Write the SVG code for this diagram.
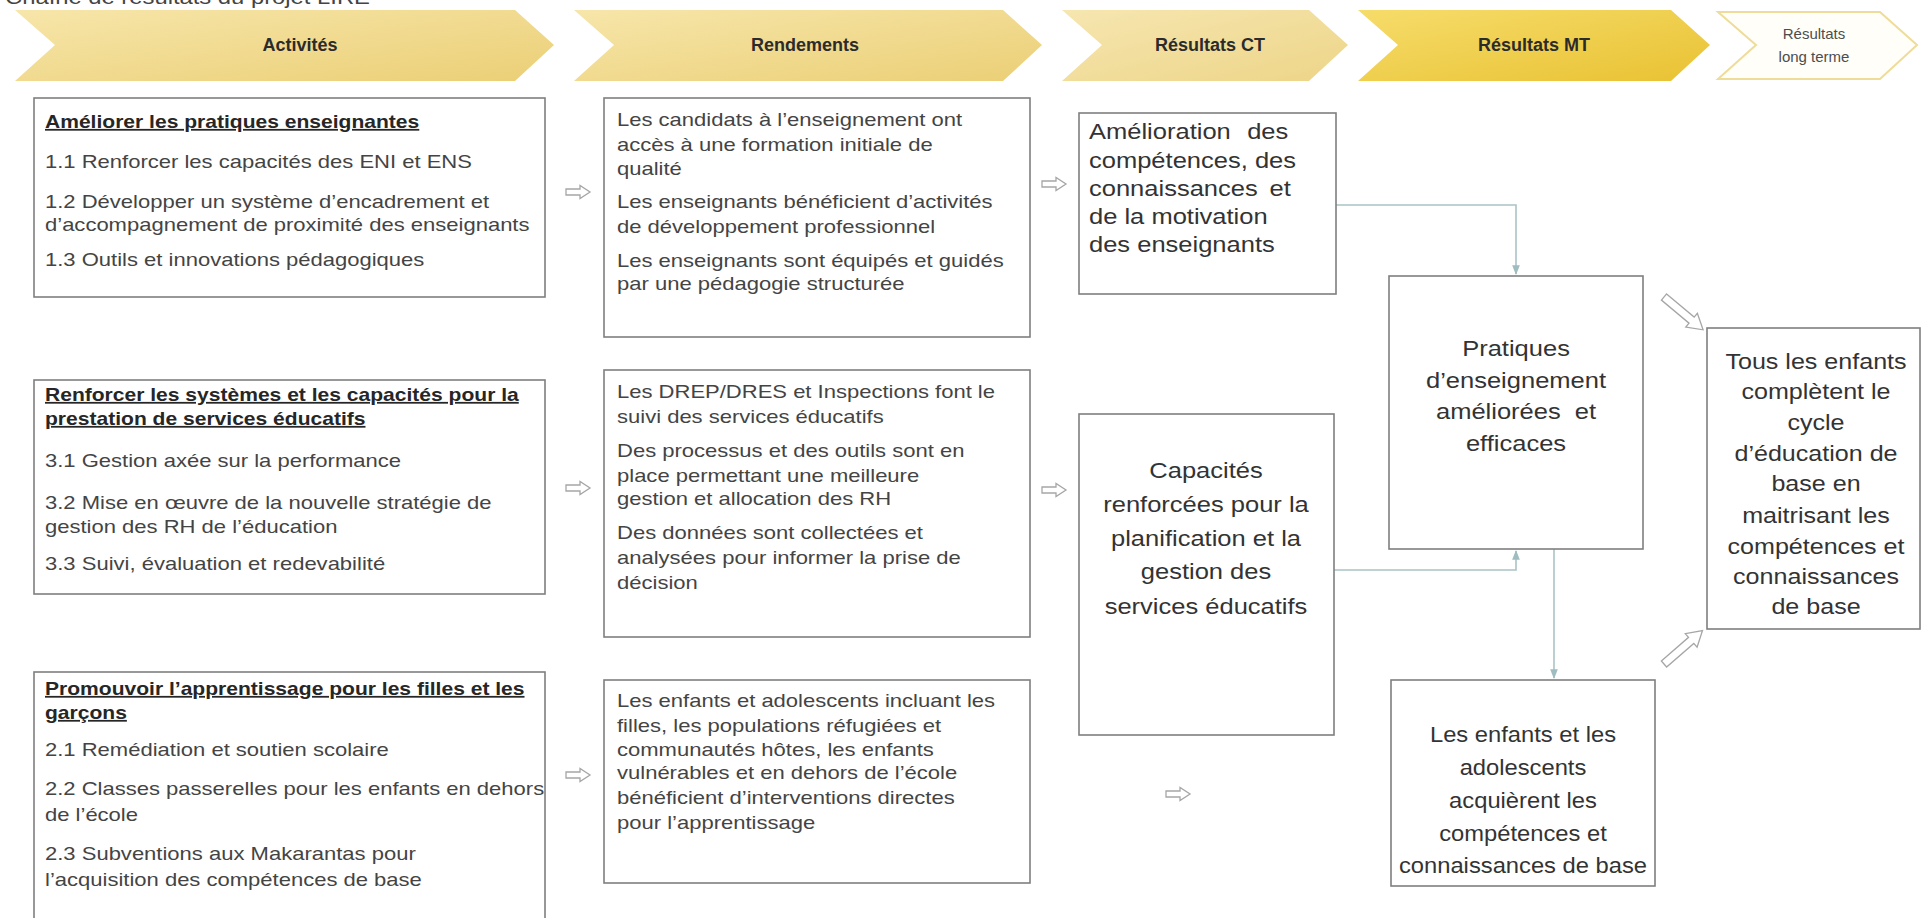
<svg xmlns="http://www.w3.org/2000/svg" width="1922" height="918" viewBox="0 0 1922 918">
<defs>
<linearGradient id="gGold" x1="0" y1="0" x2="1" y2="1">
<stop offset="0" stop-color="#f7e6aa"/><stop offset="1" stop-color="#ebcf76"/>
</linearGradient>
<linearGradient id="gGoldLight" x1="0" y1="0" x2="1" y2="1">
<stop offset="0" stop-color="#f6e6b0"/><stop offset="1" stop-color="#edd588"/>
</linearGradient>
<linearGradient id="gMT" x1="0" y1="0" x2="1" y2="1">
<stop offset="0" stop-color="#f6dc6a"/><stop offset="1" stop-color="#e9c233"/>
</linearGradient>
<marker id="ah" viewBox="0 0 10 10" refX="9" refY="5" markerWidth="6" markerHeight="6" orient="auto">
<path d="M0,1 L10,5 L0,9 z" fill="#9fbcc0"/>
</marker>
<polygon id="hollow" points="0,-3 14,-3 14,-6.5 24,0 14,6.5 14,3 0,3"/>
<polygon id="bigHollow" points="0,-4 36,-4 36,-9 51,0 36,9 36,4 0,4"/>
</defs>
<style>
.chev{stroke:none}
.hdr{font-family:"Liberation Sans",Arial,sans-serif;font-weight:bold;font-size:18px;fill:#2b2b2b;text-anchor:middle}
.box{fill:#ffffff;stroke:#7f7f7f;stroke-width:1.6}
.t{font-family:"Liberation Sans",Arial,sans-serif;font-size:18.5px;fill:#444444}
.tb{font-family:"Liberation Sans",Arial,sans-serif;font-size:17.7px;font-weight:bold;fill:#262626;text-decoration:underline}
.tc{font-family:"Liberation Sans",Arial,sans-serif;font-size:22px;fill:#333333;text-anchor:middle}
.tl{font-family:"Liberation Sans",Arial,sans-serif;font-size:22px;fill:#333333}
.conn{fill:none;stroke:#a9c4c6;stroke-width:1.6}
.ha{fill:#ffffff;stroke:#a6a6a6;stroke-width:1.3}
</style>

<g id="title" transform="translate(5,0) scale(1.19,1)">
<text x="0" y="4" font-family="Liberation Sans, Arial, sans-serif" font-size="20" fill="#444444">Chaîne de résultats du projet LIRE</text>
</g>

<g id="headers">
<polygon class="chev" fill="url(#gGold)" points="15,10 515,10 554,45 515,81 15,81 55,45"/>
<text class="hdr" x="300" y="51">Activités</text>
<polygon class="chev" fill="url(#gGold)" points="574,10 1003,10 1042,45 1003,81 574,81 614,45"/>
<text class="hdr" x="805" y="51">Rendements</text>
<polygon class="chev" fill="url(#gGoldLight)" points="1062,10 1309,10 1348,45 1309,81 1062,81 1102,45"/>
<text class="hdr" x="1210" y="51">Résultats CT</text>
<polygon class="chev" fill="url(#gMT)" points="1358,10 1671,10 1710,45 1671,81 1358,81 1398,45"/>
<text class="hdr" x="1534" y="51">Résultats MT</text>
<polygon fill="#fffef8" stroke="#eedc98" stroke-width="2" points="1718,12 1880,12 1917,45 1880,79 1718,79 1756,45"/>
<text x="1814" y="39" font-family="Liberation Sans, Arial, sans-serif" font-size="15" fill="#4d4d4d" text-anchor="middle">Résultats</text>
<text x="1814" y="62" font-family="Liberation Sans, Arial, sans-serif" font-size="15" fill="#4d4d4d" text-anchor="middle">long terme</text>
</g>

<g id="connectors">
<path class="conn" d="M1336,205 H1516 V274" marker-end="url(#ah)"/>
<path class="conn" d="M1334,570 H1516 V551" marker-end="url(#ah)"/>
<path class="conn" d="M1554,549 V678" marker-end="url(#ah)"/>
<use href="#hollow" class="ha" transform="translate(566,192)"/>
<use href="#hollow" class="ha" transform="translate(1042,184)"/>
<use href="#hollow" class="ha" transform="translate(566,488)"/>
<use href="#hollow" class="ha" transform="translate(1042,490)"/>
<use href="#hollow" class="ha" transform="translate(566,775)"/>
<use href="#hollow" class="ha" transform="translate(1166,794)"/>
<use href="#bigHollow" class="ha" transform="translate(1664,297) rotate(40)"/>
<use href="#bigHollow" class="ha" transform="translate(1664,664) rotate(-41)"/>
</g>

<g id="act1">
<rect class="box" x="34" y="98" width="511" height="199"/>
<g transform="translate(45,0) scale(1.19,1)">
<text class="tb" x="0" y="128">Améliorer les pratiques enseignantes</text>
<text class="t" x="0" y="168">1.1 Renforcer les capacités des ENI et ENS</text>
<text class="t" x="0" y="208">1.2 Développer un système d’encadrement et</text>
<text class="t" x="0" y="231">d’accompagnement de proximité des enseignants</text>
<text class="t" x="0" y="266">1.3 Outils et innovations pédagogiques</text>
</g>
</g>

<g id="act2">
<rect class="box" x="34" y="380" width="511" height="214"/>
<g transform="translate(45,0) scale(1.19,1)">
<text class="tb" x="0" y="401">Renforcer les systèmes et les capacités pour la</text>
<text class="tb" x="0" y="425">prestation de services éducatifs</text>
<text class="t" x="0" y="467">3.1 Gestion axée sur la performance</text>
<text class="t" x="0" y="509">3.2 Mise en œuvre de la nouvelle stratégie de</text>
<text class="t" x="0" y="533">gestion des RH de l’éducation</text>
<text class="t" x="0" y="570">3.3 Suivi, évaluation et redevabilité</text>
</g>
</g>

<g id="act3">
<rect class="box" x="34" y="672" width="511" height="260"/>
<g transform="translate(45,0) scale(1.19,1)">
<text class="tb" x="0" y="695">Promouvoir l’apprentissage pour les filles et les</text>
<text class="tb" x="0" y="719">garçons</text>
<text class="t" x="0" y="756">2.1 Remédiation et soutien scolaire</text>
<text class="t" x="0" y="795">2.2 Classes passerelles pour les enfants en dehors</text>
<text class="t" x="0" y="821">de l’école</text>
<text class="t" x="0" y="860">2.3 Subventions aux Makarantas pour</text>
<text class="t" x="0" y="886">l’acquisition des compétences de base</text>
</g>
</g>

<g id="rend1">
<rect class="box" x="604" y="98" width="426" height="239"/>
<g transform="translate(617,0) scale(1.19,1)">
<text class="t" x="0" y="126">Les candidats à l’enseignement ont</text>
<text class="t" x="0" y="151">accès à une formation initiale de</text>
<text class="t" x="0" y="175">qualité</text>
<text class="t" x="0" y="208">Les enseignants bénéficient d’activités</text>
<text class="t" x="0" y="233">de développement professionnel</text>
<text class="t" x="0" y="267">Les enseignants sont équipés et guidés</text>
<text class="t" x="0" y="290">par une pédagogie structurée</text>
</g>
</g>

<g id="rend2">
<rect class="box" x="604" y="370" width="426" height="267"/>
<g transform="translate(617,0) scale(1.19,1)">
<text class="t" x="0" y="398">Les DREP/DRES et Inspections font le</text>
<text class="t" x="0" y="423">suivi des services éducatifs</text>
<text class="t" x="0" y="457">Des processus et des outils sont en</text>
<text class="t" x="0" y="482">place permettant une meilleure</text>
<text class="t" x="0" y="505">gestion et allocation des RH</text>
<text class="t" x="0" y="539">Des données sont collectées et</text>
<text class="t" x="0" y="564">analysées pour informer la prise de</text>
<text class="t" x="0" y="589">décision</text>
</g>
</g>

<g id="rend3">
<rect class="box" x="604" y="680" width="426" height="203"/>
<g transform="translate(617,0) scale(1.19,1)">
<text class="t" x="0" y="707">Les enfants et adolescents incluant les</text>
<text class="t" x="0" y="732">filles, les populations réfugiées et</text>
<text class="t" x="0" y="756">communautés hôtes, les enfants</text>
<text class="t" x="0" y="779">vulnérables et en dehors de l’école</text>
<text class="t" x="0" y="804">bénéficient d’interventions directes</text>
<text class="t" x="0" y="829">pour l’apprentissage</text>
</g>
</g>

<g id="ct1">
<rect class="box" x="1079" y="113" width="257" height="181"/>
<g transform="translate(1089,0) scale(1.16,1)">
<text class="tl" x="0" y="139" word-spacing="8">Amélioration des</text>
<text class="tl" x="0" y="168">compétences, des</text>
<text class="tl" x="0" y="196" word-spacing="4">connaissances et</text>
<text class="tl" x="0" y="224">de la motivation</text>
<text class="tl" x="0" y="252">des enseignants</text>
</g>
</g>

<g id="ct2">
<rect class="box" x="1079" y="414" width="255" height="321"/>
<g transform="translate(1206,0) scale(1.16,1)">
<text class="tc" x="0" y="478">Capacités</text>
<text class="tc" x="0" y="512">renforcées pour la</text>
<text class="tc" x="0" y="546">planification et la</text>
<text class="tc" x="0" y="579">gestion des</text>
<text class="tc" x="0" y="614">services éducatifs</text>
</g>
</g>

<g id="mt1">
<rect class="box" x="1389" y="276" width="254" height="273"/>
<g transform="translate(1516,0) scale(1.16,1)">
<text class="tc" x="0" y="356">Pratiques</text>
<text class="tc" x="0" y="388">d’enseignement</text>
<text class="tc" x="0" y="419" word-spacing="6">améliorées et</text>
<text class="tc" x="0" y="451">efficaces</text>
</g>
</g>

<g id="mt2">
<rect class="box" x="1391" y="680" width="264" height="206"/>
<g transform="translate(1523,0) scale(1.08,1)">
<text class="tc" x="0" y="742">Les enfants et les</text>
<text class="tc" x="0" y="775">adolescents</text>
<text class="tc" x="0" y="808">acquièrent les</text>
<text class="tc" x="0" y="841">compétences et</text>
<text class="tc" x="0" y="873">connaissances de base</text>
</g>
</g>

<g id="lt">
<rect class="box" x="1707" y="328" width="213" height="301"/>
<g transform="translate(1816,0) scale(1.14,1)">
<text class="tc" x="0" y="369">Tous les enfants</text>
<text class="tc" x="0" y="399">complètent le</text>
<text class="tc" x="0" y="430">cycle</text>
<text class="tc" x="0" y="461">d’éducation de</text>
<text class="tc" x="0" y="491">base en</text>
<text class="tc" x="0" y="523">maitrisant les</text>
<text class="tc" x="0" y="554">compétences et</text>
<text class="tc" x="0" y="584">connaissances</text>
<text class="tc" x="0" y="614">de base</text>
</g>
</g>
</svg>
